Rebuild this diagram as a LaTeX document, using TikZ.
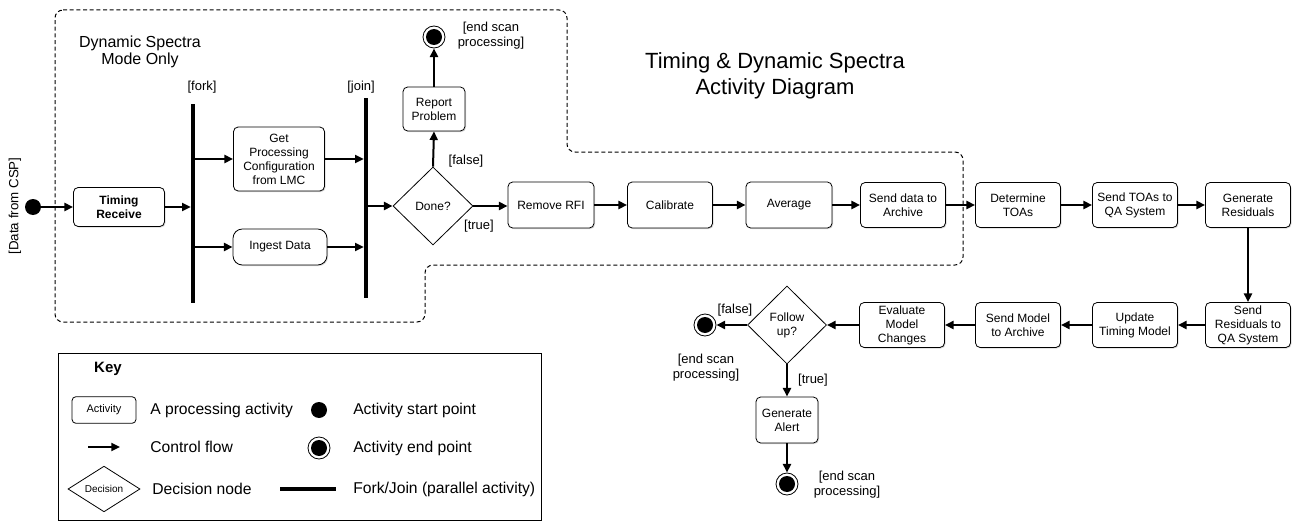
\documentclass[tikz,border=0pt]{standalone}
\usepackage{fontspec}
\setmainfont{Liberation Sans}
\usetikzlibrary{arrows.meta,shapes.geometric,shadows}
\tikzset{
 act/.style={draw, line width=0.6pt, rounded corners=3.5pt, fill=white, align=center, inner sep=1pt,
   font=\fontsize{9}{10.5}\selectfont, minimum width=63.75pt, minimum height=33.75pt,
   drop shadow={shadow xshift=0.8pt, shadow yshift=-0.8pt, opacity=0.3}},
 flow/.style={line width=1.5pt, -{Triangle[length=6.5pt,width=6pt]}},
 bar/.style={fill=black, inner sep=0pt, minimum width=3pt},
 startpt/.style={circle, fill=black, inner sep=0pt, minimum size=12pt},
 endpt/.style={circle, draw, line width=0.6pt, fill=white, inner sep=0pt, minimum size=16.5pt,
   path picture={\fill[black] (path picture bounding box.center) circle (6pt);}},
 decision/.style={diamond, draw, line width=0.6pt, fill=white, inner sep=0pt, aspect=1,
   align=center, font=\fontsize{9}{10.5}\selectfont},
 lbl/.style={font=\fontsize{9.75}{11.25}\selectfont, align=center, inner sep=0pt},
 keytxt/.style={font=\fontsize{11.75}{14}\selectfont, anchor=west, inner sep=0pt},
 region/.style={dash pattern=on 3pt off 2pt, line width=0.75pt, rounded corners=6pt},
}
\begin{document}
\begin{tikzpicture}[x=0.75pt,y=-0.75pt]
\useasboundingbox (0,0) rectangle (1304,528);

% dashed region
\draw[region] (55,10) -- (567,10) -- (567,152) -- (963,152) -- (963,265) -- (425,265) -- (425,322) -- (55,322) -- cycle;

% titles
\node[font=\fontsize{16.5}{19.5}\selectfont, align=center] (title) at (775,76) {Timing \& Dynamic Spectra\\Activity Diagram};
\node[font=\fontsize{12}{12.75}\selectfont, align=center] (dsmo) at (140,52) {Dynamic Spectra\\Mode Only};

% start
\node[startpt] (start) at (33,207) {};
\node[lbl, rotate=90, font=\fontsize{10}{12}\selectfont] (datalbl) at (15,206) {[Data from CSP]};

\node[act, minimum width=68.25pt, minimum height=29.25pt, font=\bfseries\fontsize{9}{10.5}\selectfont] (timing) at (119,207) {Timing\\Receive};

\node[bar, minimum height=149.25pt] (fork) at (193,203.5) {};
\node[lbl] (forklbl) at (202,87) {[fork]};
\node[act, minimum width=68.25pt, minimum height=48pt] (config) at (279,159) {Get\\Processing\\Configuration\\from LMC};
\node[act, minimum width=70.5pt, minimum height=27pt, rounded corners=7pt] (ingest) at (280,247) {Ingest Data};
\node[bar, minimum height=150pt] (join) at (366,198) {};
\node[lbl] (joinlbl) at (361,87) {[join]};

\node[decision, minimum width=60pt, minimum height=58.5pt] (done) at (433,206) {Done?};
\node[act, minimum width=46.5pt, minimum height=33pt] (report) at (434,109) {Report\\Problem};
\node[endpt] (end1) at (434,37) {};
\node[lbl] (end1lbl) at (491,36) {[end scan\\processing]};
\node[lbl] (false1) at (466,161) {[false]};
\node[lbl] (true1) at (479,226) {[true]};

\node[act, minimum width=64.5pt, minimum height=34.5pt] (rfi) at (551,205) {Remove RFI};
\node[act, minimum width=63.75pt, minimum height=34.5pt] (cal) at (670,205) {Calibrate};
\node[act, minimum width=64.5pt, minimum height=34.5pt] (avg) at (789,205) {Average};
\node[act] (sendarch) at (903,205) {Send data to\\Archive};
\node[act] (toas) at (1018,205) {Determine\\TOAs};
\node[act] (sendtoas) at (1135,205) {Send TOAs to\\QA System};
\node[act] (genres) at (1248,205) {Generate\\Residuals};

\node[act] (sendres) at (1248,325) {Send\\Residuals to\\QA System};
\node[act] (update) at (1135,325) {Update\\Timing Model};
\node[act] (sendmodel) at (1018,325) {Send Model\\to Archive};
\node[act] (evaluate) at (902,325) {Evaluate\\Model\\Changes};
\node[decision, minimum width=59.25pt, minimum height=58.5pt] (follow) at (787,325) {Follow\\up?};
\node[endpt] (end2) at (705,325) {};
\node[lbl] (false2) at (735,310) {[false]};
\node[lbl] (end2lbl) at (706,368) {[end scan\\processing]};
\node[act, minimum width=46.5pt, minimum height=34.5pt] (alert) at (787,420) {Generate\\Alert};
\node[lbl] (true2) at (813,380) {[true]};
\node[endpt] (end3) at (787,484) {};
\node[lbl] (end3lbl) at (847,485) {[end scan\\processing]};

% connectors
\draw[flow] (start) -- (timing);
\draw[flow] (timing.east) -- (timing.east -| fork.west);
\draw[flow] (fork.east |- config.west) -- (config.west);
\draw[flow] (fork.east |- ingest.west) -- (ingest.west);
\draw[flow] (config.east) -- (config.east -| join.west);
\draw[flow] (ingest.east) -- (ingest.east -| join.west);
\draw[flow] (join.east |- done.west) -- (done.west);
\draw[flow] (done.north) -- (report.south);
\draw[flow] (report.north) -- (end1.south);
\draw[flow] (done.east) -- (done.east -| rfi.west);
\draw[flow] (rfi) -- (cal);
\draw[flow] (cal) -- (avg);
\draw[flow] (avg) -- (sendarch);
\draw[flow] (sendarch) -- (toas);
\draw[flow] (toas) -- (sendtoas);
\draw[flow] (sendtoas) -- (genres);
\draw[flow] (genres) -- (sendres);
\draw[flow] (sendres) -- (update);
\draw[flow] (update) -- (sendmodel);
\draw[flow] (sendmodel) -- (evaluate);
\draw[flow] (evaluate) -- (follow);
\draw[flow] (follow.west) -- (end2);
\draw[flow] (follow.south) -- (alert.north);
\draw[flow] (alert.south) -- (end3.north);

% key
\draw[line width=0.75pt] (58,353) rectangle (541,520);
\node[font=\bfseries\fontsize{11.25}{13}\selectfont] (keyt) at (108,369) {Key};
\node[draw, line width=0.6pt, rounded corners=3pt, inner sep=0pt, minimum width=48pt, minimum height=20pt, font=\fontsize{8.25}{10}\selectfont] (kact) at (104,410) {Activity};
\node[keytxt] (kactt) at (150,410) {A processing activity};
\node[startpt] (kstart) at (319,410) {};
\node[keytxt] (kstartt) at (353,410) {Activity start point};
\coordinate (ka1) at (88,447);
\coordinate (ka2) at (120,447);
\draw[flow] (ka1) -- (ka2);
\node[keytxt] (kflowt) at (150,447) {Control flow};
\node[endpt] (kend) at (319,448) {};
\node[keytxt] (kendt) at (353,448) {Activity end point};
\node[diamond, draw, line width=0.6pt, inner sep=0pt, minimum width=54pt, minimum height=33.75pt, font=\fontsize{7.5}{9}\selectfont] (kdec) at (104,489) {Decision};
\node[keytxt] (kdect) at (152,489) {Decision node};
\coordinate (kf1) at (280,489);
\coordinate (kf2) at (336,489);
\draw[line width=3pt] (kf1) -- (kf2);
\node[keytxt] (kforkt) at (353,489) {Fork/Join (parallel activity)};
\end{tikzpicture}
\end{document}
